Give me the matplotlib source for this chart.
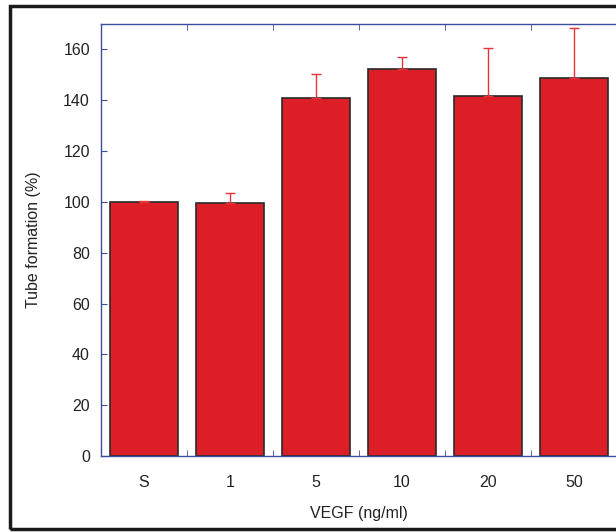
import numpy as np
import matplotlib
matplotlib.use('Agg')
from matplotlib import pyplot as plt
from matplotlib.patches import Rectangle

# data
categories = ['S', '1', '5', '10', '20', '50']
tube_formation = [100, 99.5, 140.7, 152.3, 141.6, 148.8]
err_upper = [0.3, 3.9, 9.8, 4.7, 18.9, 19.7]

plt.rcParams['font.family'] = ['Liberation Sans', 'DejaVu Sans']

fig = plt.figure(figsize=(6.16, 5.32), dpi=100)
ax = fig.add_axes([101/616, 1-456/532, 516/616, 432/532])

blue = '#3d4c9e'
red = '#dc1f26'
x = np.arange(len(categories))
ax.bar(x, tube_formation, width=0.8, color=red, edgecolor='#2a2a2a', linewidth=1.2, zorder=2)
ax.errorbar(x, tube_formation, yerr=[np.zeros(len(x)), err_upper], fmt='none',
            ecolor='#e8323a', elinewidth=1, capsize=3.5, capthick=1, zorder=3)

ax.set_xlim(-0.5, 5.5)
ax.set_ylim(0, 170)
ax.set_xticks(x)
ax.set_xticklabels(categories)
ax.set_xticks(x[:-1] + 0.5, minor=True)
ax.set_yticks(np.arange(0, 161, 20))
ax.tick_params(axis='x', which='major', length=0, pad=14, labelsize=11.5, colors='#222222')
ax.tick_params(axis='x', which='minor', direction='in', length=4, color=blue, top=True, bottom=True)
ax.tick_params(axis='y', direction='in', length=4, color=blue, labelsize=11.5, labelcolor='#222222', pad=8)
for s in ax.spines.values():
    s.set_color(blue)
    s.set_linewidth(1)

ax.set_xlabel('VEGF (ng/ml)', fontsize=11.5, color='#222222', labelpad=11)
ax.set_ylabel('Tube formation (%)', fontsize=11.5, color='#222222', labelpad=16)

# outer frame around the figure
fig.patches.append(Rectangle((10/616, 1-529/532), 620/616, 523/532, transform=fig.transFigure,
                             fill=False, edgecolor='#1a1a1a', linewidth=2.5, clip_on=False))

fig.savefig('out.png', dpi=100)
